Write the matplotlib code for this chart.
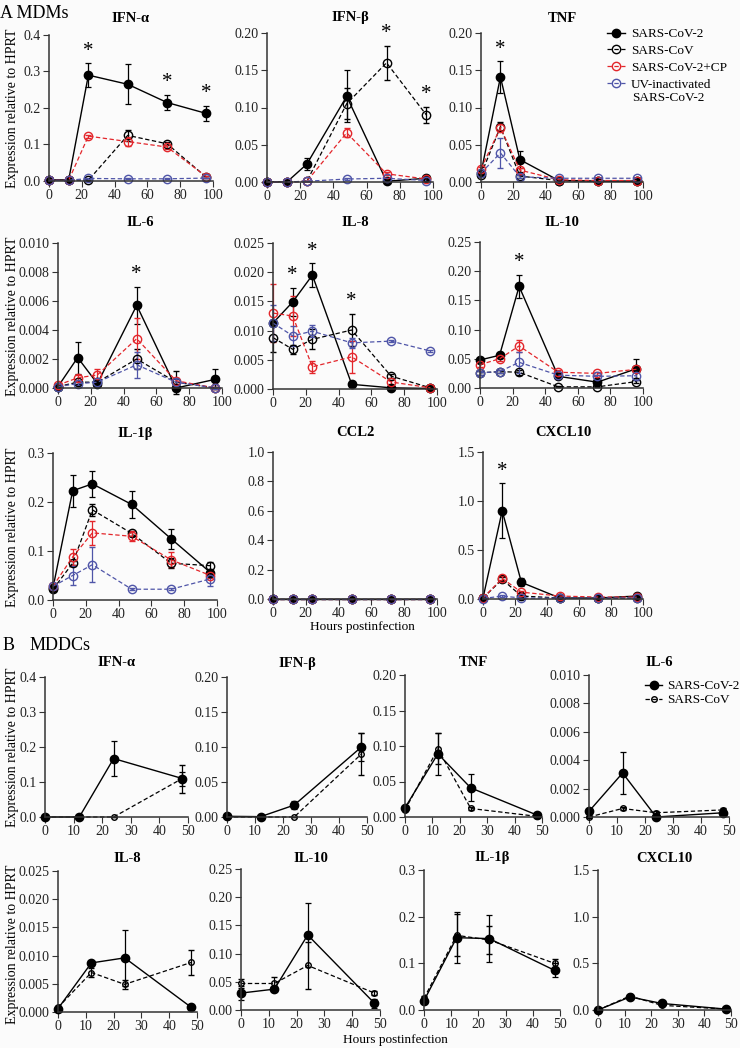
import numpy as np
import matplotlib
matplotlib.use("Agg")
import matplotlib.pyplot as plt
from matplotlib.lines import Line2D
from matplotlib.ticker import FormatStrFormatter

plt.rcParams['font.family'] = ['Liberation Serif', 'DejaVu Serif']

W, H = 740, 1048
BG = '#fbfbfb'
RED = '#e3262b'
BLUE = '#4f55a8'

hours_a = [0, 12, 24, 48, 72, 96]
hours_b = [0, 12, 24, 48]
series_a = ["SARS-CoV-2", "SARS-CoV", "SARS-CoV-2+CP", "UV-inactivated"]
series_a_extra = "SARS-CoV-2"  # second line of the UV-inactivated label
series_b = ["SARS-CoV-2", "SARS-CoV"]

# ---------------- A: MDMs (mean, error) ----------------
# order of series: SARS-CoV-2, SARS-CoV, SARS-CoV-2+CP, UV-inactivated
ifna_a = [[0.003, 0.003, 0.290, 0.265, 0.215, 0.185],
          [0.003, 0.003, 0.002, 0.125, 0.102, 0.010],
          [0.002, 0.002, 0.123, 0.108, 0.093, 0.012],
          [0.002, 0.002, 0.007, 0.006, 0.006, 0.008]]
ifna_a_err = [[0.002, 0.002, 0.032, 0.055, 0.021, 0.020],
              [0.001, 0.001, 0.001, 0.016, 0.004, 0.003],
              [0.001, 0.001, 0.004, 0.012, 0.006, 0.003],
              [0.001, 0.001, 0.001, 0.001, 0.001, 0.001]]

ifnb_a = [[0.0005, 0.000, 0.024, 0.115, 0.001, 0.005],
          [0.000, 0.000, 0.001, 0.105, 0.160, 0.090],
          [0.000, 0.000, 0.001, 0.066, 0.011, 0.004],
          [0.000, 0.000, 0.001, 0.004, 0.005, 0.002]]
ifnb_a_err = [[0.000, 0.000, 0.008, 0.035, 0.001, 0.002],
              [0.000, 0.000, 0.000, 0.021, 0.023, 0.011],
              [0.000, 0.000, 0.000, 0.006, 0.002, 0.001],
              [0.000, 0.000, 0.000, 0.001, 0.001, 0.001]]

tnf_a = [[0.012, 0.141, 0.030, 0.002, 0.001, 0.001],
         [0.010, 0.074, 0.008, 0.002, 0.001, 0.001],
         [0.018, 0.073, 0.016, 0.003, 0.002, 0.002],
         [0.012, 0.039, 0.007, 0.005, 0.005, 0.005]]
tnf_a_err = [[0.002, 0.021, 0.011, 0.001, 0.001, 0.001],
             [0.002, 0.006, 0.002, 0.001, 0.001, 0.001],
             [0.002, 0.005, 0.003, 0.001, 0.001, 0.001],
             [0.002, 0.020, 0.002, 0.001, 0.001, 0.001]]

il6_a = [[0.0001, 0.0021, 0.0003, 0.0057, 0.0000, 0.0006],
         [0.0001, 0.0004, 0.0004, 0.0020, 0.0004, 0.0000],
         [0.0002, 0.0007, 0.0009, 0.0034, 0.0005, 0.0000],
         [0.0001, 0.0003, 0.0004, 0.0016, 0.0004, 0.0000]]
il6_a_err = [[0.0001, 0.0011, 0.0001, 0.0013, 0.0001, 0.0007],
             [0.0001, 0.0001, 0.0001, 0.0007, 0.0008, 0.0001],
             [0.0001, 0.0002, 0.0004, 0.0014, 0.0002, 0.0001],
             [0.0001, 0.0001, 0.0001, 0.0009, 0.0002, 0.0001]]

il8_a = [[0.0113, 0.0149, 0.0195, 0.0008, 0.0002, 0.0001],
         [0.0088, 0.0068, 0.0085, 0.0101, 0.0022, 0.0002],
         [0.0130, 0.0125, 0.0038, 0.0055, 0.0012, 0.0002],
         [0.0113, 0.0091, 0.0099, 0.0079, 0.0082, 0.0065]]
il8_a_err = [[0.0005, 0.0024, 0.0020, 0.0002, 0.0001, 0.0001],
             [0.0025, 0.0008, 0.0017, 0.0028, 0.0003, 0.0001],
             [0.0050, 0.0035, 0.0010, 0.0027, 0.0003, 0.0001],
             [0.0030, 0.0017, 0.0010, 0.0008, 0.0002, 0.0002]]

il10_a = [[0.048, 0.056, 0.174, 0.020, 0.010, 0.033],
          [0.026, 0.028, 0.027, 0.002, 0.002, 0.011],
          [0.040, 0.050, 0.072, 0.027, 0.025, 0.032],
          [0.026, 0.028, 0.044, 0.022, 0.020, 0.021]]
il10_a_err = [[0.004, 0.004, 0.020, 0.003, 0.003, 0.016],
              [0.003, 0.003, 0.004, 0.001, 0.001, 0.003],
              [0.004, 0.004, 0.010, 0.003, 0.003, 0.004],
              [0.003, 0.003, 0.018, 0.003, 0.003, 0.008]]

il1b_a = [[0.025, 0.223, 0.237, 0.195, 0.125, 0.056],
          [0.022, 0.075, 0.184, 0.136, 0.075, 0.070],
          [0.028, 0.088, 0.137, 0.130, 0.082, 0.050],
          [0.028, 0.050, 0.072, 0.022, 0.022, 0.043]]
il1b_a_err = [[0.003, 0.033, 0.026, 0.027, 0.020, 0.005],
              [0.003, 0.004, 0.012, 0.005, 0.010, 0.007],
              [0.003, 0.016, 0.024, 0.010, 0.015, 0.005],
              [0.003, 0.020, 0.036, 0.002, 0.002, 0.015]]

ccl2_a = [[0.0, 0.0, 0.0, 0.0, 0.0, 0.0],
          [0.0, 0.0, 0.0, 0.0, 0.0, 0.0],
          [0.0, 0.0, 0.0, 0.0, 0.0, 0.0],
          [0.0, 0.0, 0.0, 0.0, 0.0, 0.0]]
ccl2_a_err = [[0.0] * 6, [0.0] * 6, [0.0] * 6, [0.0] * 6]

cxcl10_a = [[0.01, 0.90, 0.17, 0.01, 0.01, 0.03],
            [0.01, 0.20, 0.03, 0.01, 0.01, 0.01],
            [0.01, 0.21, 0.07, 0.03, 0.02, 0.02],
            [0.005, 0.03, 0.01, 0.01, 0.01, 0.01]]
cxcl10_a_err = [[0.005, 0.28, 0.04, 0.005, 0.005, 0.01],
                [0.005, 0.02, 0.01, 0.005, 0.005, 0.005],
                [0.005, 0.02, 0.01, 0.005, 0.005, 0.005],
                [0.005, 0.01, 0.005, 0.005, 0.005, 0.005]]

# ---------------- B: MDDCs (mean, error) ----------------
ifna_b = [[0.0, 0.0, 0.167, 0.110], [0.0, 0.0, 0.0, 0.110]]
ifna_b_err = [[0.002, 0.002, 0.050, 0.020], [0.0, 0.0, 0.0, 0.040]]
ifnb_b = [[0.001, 0.0005, 0.017, 0.100], [0.0, 0.0, 0.0, 0.090]]
ifnb_b_err = [[0.001, 0.001, 0.006, 0.020], [0.0, 0.0, 0.0, 0.030]]
tnf_b = [[0.013, 0.089, 0.041, 0.003], [0.010, 0.096, 0.012, 0.001]]
tnf_b_err = [[0.002, 0.030, 0.019, 0.002], [0.002, 0.022, 0.002, 0.001]]
il6_b = [[0.0004, 0.0031, 0.0000, 0.0003], [0.0000, 0.0006, 0.0003, 0.0005]]
il6_b_err = [[0.0001, 0.0015, 0.0001, 0.0001], [0.0001, 0.0001, 0.0001, 0.0001]]
il8_b = [[0.0006, 0.0087, 0.0096, 0.0008], [0.0008, 0.0070, 0.0049, 0.0088]]
il8_b_err = [[0.0002, 0.0004, 0.0050, 0.0002], [0.0002, 0.0008, 0.0008, 0.0022]]
il10_b = [[0.030, 0.037, 0.133, 0.012], [0.047, 0.047, 0.079, 0.030]]
il10_b_err = [[0.012, 0.003, 0.057, 0.008], [0.008, 0.012, 0.042, 0.004]]
il1b_b = [[0.020, 0.155, 0.153, 0.085], [0.025, 0.160, 0.150, 0.100]]
il1b_b_err = [[0.004, 0.055, 0.050, 0.015], [0.005, 0.045, 0.030, 0.010]]
cxcl10_b = [[0.0, 0.14, 0.07, 0.01], [0.0, 0.15, 0.05, 0.01]]
cxcl10_b_err = [[0.005, 0.01, 0.01, 0.005], [0.005, 0.01, 0.01, 0.005]]

# ---- styles ----
st_cov2 = dict(color='black', marker='o', ms=6, mfc='black', mec='black', ls='-', lw=1.0)
st_cov = dict(color='black', marker='o', ms=6, mfc='none', mec='black', mew=1.0, ls=(0, (3.5, 2)), lw=0.9)
st_cp = dict(color=RED, marker='o', ms=6, mfc='none', mec=RED, mew=1.0, ls=(0, (3.5, 2)), lw=0.9)
st_uv = dict(color=BLUE, marker='o', ms=6, mfc='none', mec=BLUE, mew=1.0, ls=(0, (3.5, 2)), lw=0.9)
styles_a = [st_cov2, st_cov, st_cp, st_uv]
st_cov2_b = dict(st_cov2, ms=6)
st_cov_b = dict(st_cov, ms=4)
styles_b = [st_cov2_b, st_cov_b]

fig = plt.figure(figsize=(W / 100, H / 100), dpi=100, facecolor=BG)


def panel(box, title, title_y, hours, means, errs, styles, ymax, ystep, ydec, xmax, xstep, stars=()):
    left, right, top, bottom = box
    ax = fig.add_axes([left / W, 1 - bottom / H, (right - left) / W, (bottom - top) / H])
    ax.set_facecolor('none')
    for m, e, st in zip(means, errs, styles):
        ax.errorbar(hours, m, yerr=e, capsize=2.5, elinewidth=0.9, capthick=0.9, **st)
    for art in ax.lines + ax.collections:
        art.set_clip_on(False)
    for t in stars:
        i = hours.index(t)
        top_val = max(m[i] + e[i] for m, e in zip(means, errs))
        ax.annotate('*', xy=(t, top_val), xytext=(0, 2), textcoords='offset points',
                    ha='center', va='bottom', fontsize=15)
    ax.set_xlim(0, xmax)
    ax.set_ylim(0, ymax)
    ax.set_xticks(np.arange(0, xmax + 1, xstep))
    ax.set_yticks(np.arange(0, ymax + ystep / 2, ystep))
    ax.yaxis.set_major_formatter(FormatStrFormatter('%.' + str(ydec) + 'f'))
    for s in ['top', 'right']:
        ax.spines[s].set_visible(False)
    for s in ['left', 'bottom']:
        ax.spines[s].set_color('#333333')
        ax.spines[s].set_linewidth(1.1)
    ax.tick_params(direction='out', length=4, width=0.8, labelsize=10, pad=2,
                   colors='#333333', labelcolor='#222222')
    fig.text((left + right) / 2 / W, 1 - title_y / H, title, ha='center', va='center',
             fontweight='bold', fontsize=10.5)
    return ax


# ---------------- A ----------------
fig.text(0 / W, 1 - 13 / H, 'A MDMs', ha='left', va='center', fontsize=13)
panel((49, 213, 35, 181), 'IFN-α', 18, hours_a, ifna_a, ifna_a_err, styles_a, 0.4, 0.1, 1, 100, 20, stars=(24, 72, 96))
panel((267, 433, 33, 182), 'IFN-β', 18, hours_a, ifnb_a, ifnb_a_err, styles_a, 0.20, 0.05, 2, 100, 20, stars=(72, 96))
panel((481, 643, 33, 182), 'TNF', 18, hours_a, tnf_a, tnf_a_err, styles_a, 0.20, 0.05, 2, 100, 20, stars=(12,))
panel((58, 222, 243, 388), 'IL-6', 223, hours_a, il6_a, il6_a_err, styles_a, 0.010, 0.002, 3, 100, 20, stars=(48,))
panel((273, 437, 243, 389), 'IL-8', 223, hours_a, il8_a, il8_a_err, styles_a, 0.025, 0.005, 3, 100, 20, stars=(12, 24, 48))
panel((480, 643, 242, 388), 'IL-10', 223, hours_a, il10_a, il10_a_err, styles_a, 0.25, 0.05, 2, 100, 20, stars=(24,))
panel((53, 217, 453, 600), 'IL-1β', 433, hours_a, il1b_a, il1b_a_err, styles_a, 0.3, 0.1, 1, 100, 20)
panel((273, 437, 452, 599), 'CCL2', 433, hours_a, ccl2_a, ccl2_a_err, styles_a, 1.0, 0.2, 1, 100, 20)
panel((483, 643, 452, 599), 'CXCL10', 433, hours_a, cxcl10_a, cxcl10_a_err, styles_a, 1.5, 0.5, 1, 100, 20, stars=(12,))

for yc in [108, 316, 527]:
    fig.text(13 / W, 1 - yc / H, 'Expression relative to HPRT', rotation=90, ha='center', va='center', fontsize=10)
fig.text(362 / W, 1 - 627 / H, 'Hours postinfection', ha='center', va='center', fontsize=9.5)

handles_a = [Line2D([], [], **st) for st in styles_a]
fig.legend(handles_a, series_a, loc='upper left', bbox_to_anchor=(607 / W, 1 - 28 / H),
           frameon=False, fontsize=9.5, handlelength=1.4, handletextpad=0.4, labelspacing=0.35,
           borderpad=0, borderaxespad=0)
fig.text(632 / W, 1 - 98 / H, series_a_extra, ha='left', va='center', fontsize=9.5)

# ---------------- B ----------------
fig.text(3 / W, 1 - 645 / H, 'B', ha='left', va='center', fontsize=13)
fig.text(30 / W, 1 - 645 / H, 'MDDCs', ha='left', va='center', fontsize=13)
panel((45, 188, 677, 817), 'IFN-α', 663, hours_b, ifna_b, ifna_b_err, styles_b, 0.4, 0.1, 1, 50, 10)
panel((227, 367, 677, 817), 'IFN-β', 663, hours_b, ifnb_b, ifnb_b_err, styles_b, 0.20, 0.05, 2, 50, 10)
panel((405, 542, 675, 817), 'TNF', 663, hours_b, tnf_b, tnf_b_err, styles_b, 0.20, 0.05, 2, 50, 10)
panel((589, 729, 675, 817), 'IL-6', 663, hours_b, il6_b, il6_b_err, styles_b, 0.010, 0.002, 3, 50, 10)
panel((58, 197, 871, 1012), 'IL-8', 858, hours_b, il8_b, il8_b_err, styles_b, 0.025, 0.005, 3, 50, 10)
panel((241, 380, 869, 1010), 'IL-10', 858, hours_b, il10_b, il10_b_err, styles_b, 0.25, 0.05, 2, 50, 10)
panel((424, 560, 870, 1010), 'IL-1β', 858, hours_b, il1b_b, il1b_b_err, styles_b, 0.3, 0.1, 1, 50, 10)
panel((598, 731, 870, 1010), 'CXCL10', 858, hours_b, cxcl10_b, cxcl10_b_err, styles_b, 1.5, 0.5, 1, 50, 10)

for yc in [747, 944]:
    fig.text(13 / W, 1 - yc / H, 'Expression relative to HPRT', rotation=90, ha='center', va='center', fontsize=10)
fig.text(395 / W, 1 - 1040 / H, 'Hours postinfection', ha='center', va='center', fontsize=9.5)

handles_b = [Line2D([], [], **st) for st in styles_b]
fig.legend(handles_b, series_b, loc='upper left', bbox_to_anchor=(645 / W, 1 - 680 / H),
           frameon=False, fontsize=9.5, handlelength=1.3, handletextpad=0.4, labelspacing=0.15,
           borderpad=0, borderaxespad=0)

fig.savefig('out.png', dpi=100, facecolor=BG)
